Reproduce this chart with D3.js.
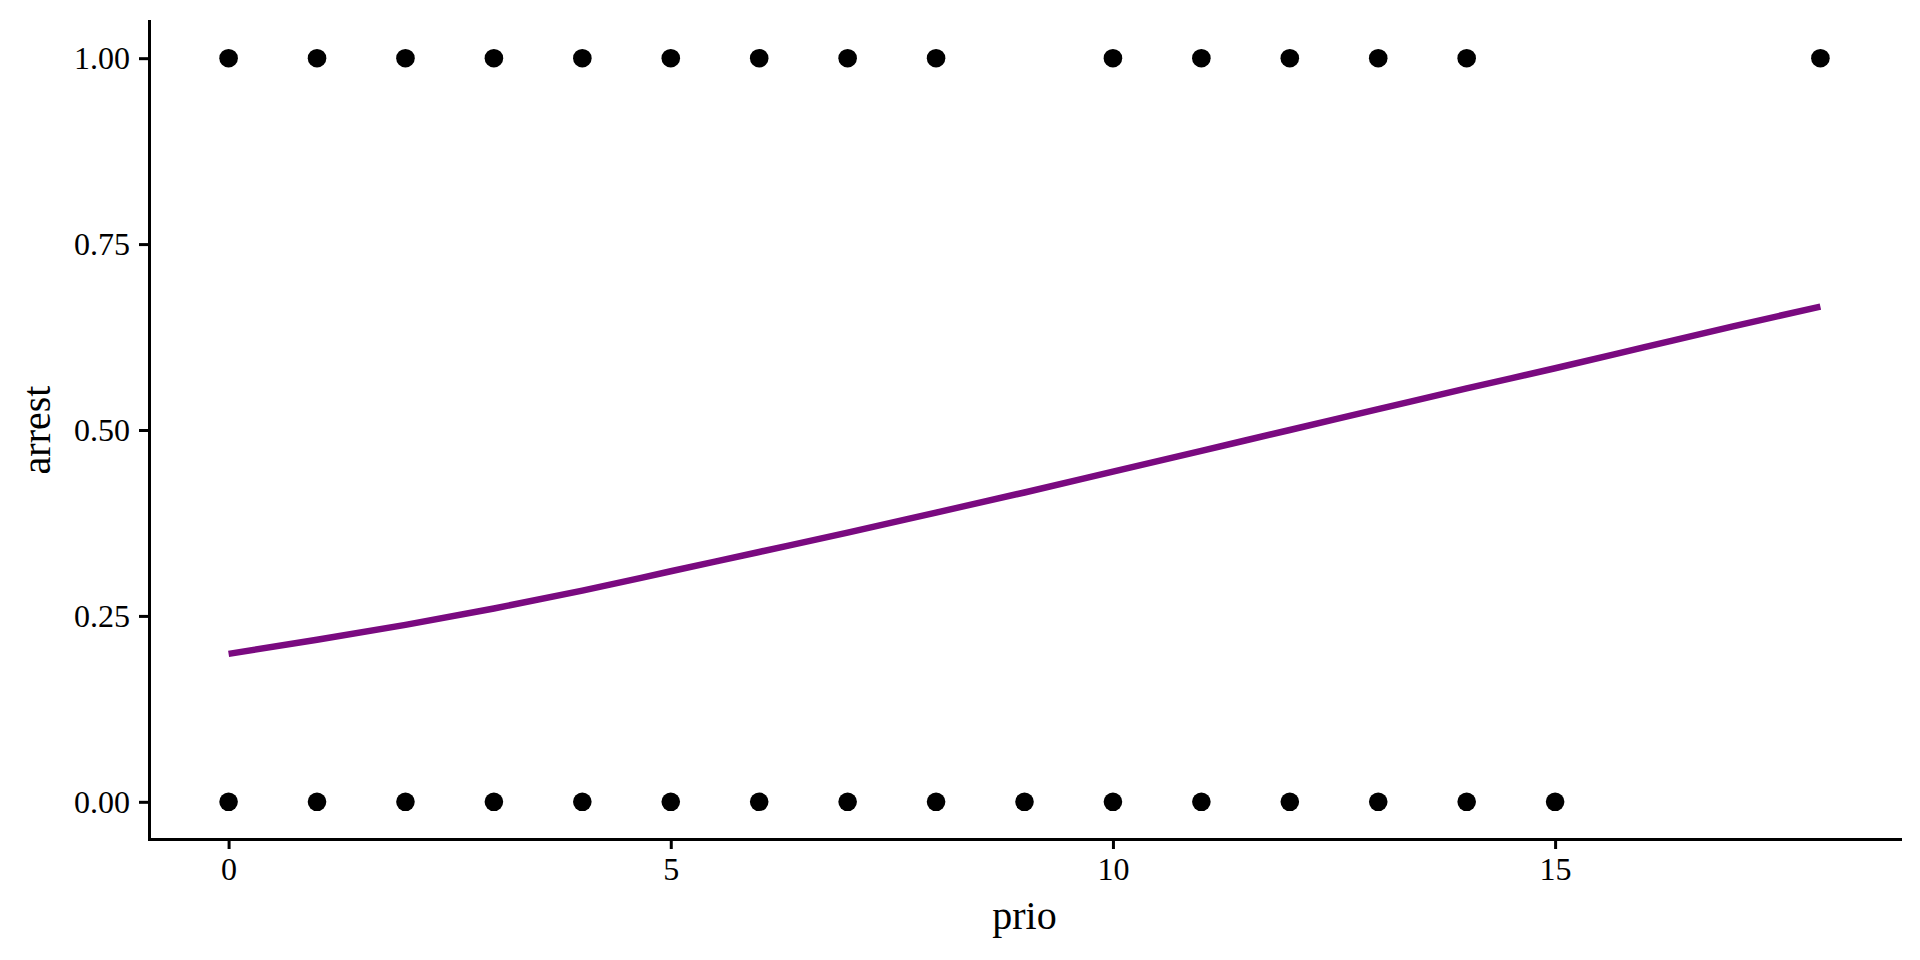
<!DOCTYPE html>
<html>
<head>
<meta charset="utf-8">
<script src="https://cdn.jsdelivr.net/npm/d3@7"></script>
<style>
  html, body { margin: 0; padding: 0; background: #fff; }
  svg { display: block; font-family: "Liberation Serif", "Times New Roman", serif; }
</style>
</head>
<body>
<script>
// prior convictions with an observed arrest (1) / no arrest (0)
let prioArrested = [0, 1, 2, 3, 4, 5, 6, 7, 8, 10, 11, 12, 13, 14, 18]
let prioNotArrested = [0, 1, 2, 3, 4, 5, 6, 7, 8, 9, 10, 11, 12, 13, 14, 15]

// fitted probability curve
let fitPrio = [0, 1, 2, 3, 4, 5, 6, 7, 8, 9, 10, 11, 12, 13, 14, 15, 16, 17, 18]
let fitArrest = [0.199, 0.218, 0.238, 0.260, 0.284, 0.310, 0.336, 0.362, 0.389, 0.416,
                 0.444, 0.472, 0.500, 0.528, 0.556, 0.583, 0.611, 0.639, 0.666]

let xTicks = [0, 5, 10, 15]
let yTicks = [0, 0.25, 0.5, 0.75, 1]

let w = 1920
let h = 960
let margin = {top: 21, right: 20, bottom: 121, left: 149}

let svg = d3.select("body")
    .append("svg")
    .attr("width", w)
    .attr("height", h)

let x = d3.scaleLinear()
    .domain([-0.9, 18.9])
    .range([margin.left, w - margin.right])

let y = d3.scaleLinear()
    .domain([-0.05, 1.05])
    .range([h - margin.bottom, margin.top])

let points = prioArrested.map(p => ({prio: p, arrest: 1}))
    .concat(prioNotArrested.map(p => ({prio: p, arrest: 0})))

svg.append("g")
    .selectAll("circle")
    .data(points)
    .enter()
    .append("circle")
    .attr("cx", d => x(d.prio))
    .attr("cy", d => y(d.arrest))
    .attr("r", 9.3)
    .attr("fill", "#000")

let line = d3.line()
    .x((d, i) => x(fitPrio[i]))
    .y(d => y(d))
    .curve(d3.curveMonotoneX)

svg.append("path")
    .datum(fitArrest)
    .attr("fill", "none")
    .attr("stroke", "#7a0a80")
    .attr("stroke-width", 6.5)
    .attr("d", line)

// axes
let xAxis = svg.append("g")
    .attr("transform", "translate(0," + (h - margin.bottom) + ")")
    .call(d3.axisBottom(x).tickValues(xTicks).tickFormat(d3.format("d"))
        .tickSize(10).tickSizeOuter(0).tickPadding(8))

let yAxis = svg.append("g")
    .attr("transform", "translate(" + margin.left + ",0)")
    .call(d3.axisLeft(y).tickValues(yTicks).tickFormat(d3.format(".2f"))
        .tickSize(10).tickSizeOuter(0).tickPadding(9))

for (let ax of [xAxis, yAxis]) {
    ax.select(".domain").attr("stroke", "#000").attr("stroke-width", 3)
        .attr("stroke-linecap", "square")
    ax.selectAll(".tick line").attr("stroke", "#000").attr("stroke-width", 3)
    ax.selectAll(".tick text")
        .attr("fill", "#000")
        .style("font-family", "'Liberation Serif', serif")
        .style("font-size", "32px")
}

// axis titles
svg.append("text")
    .attr("x", (margin.left + w - margin.right) / 2)
    .attr("y", 929)
    .attr("text-anchor", "middle")
    .style("font-size", "40px")
    .text("prio")

svg.append("text")
    .attr("transform", "translate(50," + ((margin.top + h - margin.bottom) / 2) + ") rotate(-90)")
    .attr("text-anchor", "middle")
    .style("font-size", "40px")
    .text("arrest")
</script>
</body>
</html>
